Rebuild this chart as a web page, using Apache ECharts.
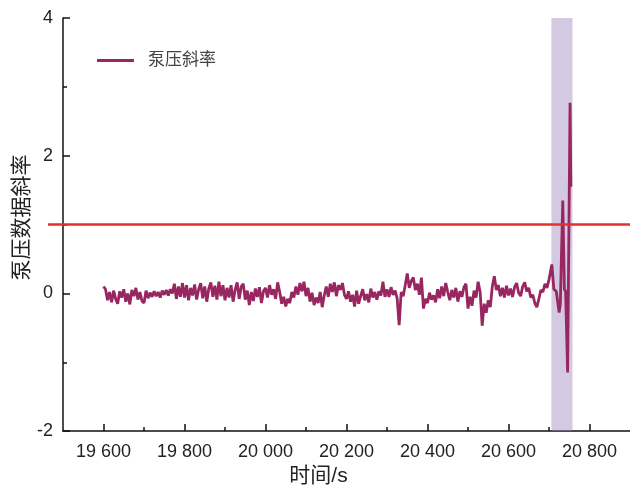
<!DOCTYPE html>
<html>
<head>
<meta charset="utf-8">
<script src="https://cdn.jsdelivr.net/npm/echarts@6/dist/echarts.min.js"></script>
<style>html,body{margin:0;padding:0;background:#fff}#c{width:630px;height:492px}</style>
</head>
<body>
<div id="c"></div>
<script>
// ---- data ----
const seriesName = '泵压斜率';
const xName = '时间/s';
const yName = '泵压数据斜率';
const sampleStart = 19600;   // s
const sampleStep = 5;        // s
// regularly sampled slope values, 19600 .. 20695 s
const slopeValues = [
  0.10, 0.06, -0.10, 0.02, -0.13, 0.04, -0.08, -0.15, 0.03, -0.06, 0.06, -0.12, 0.00, -0.16, 0.05, -0.04, 0.08, -0.09, 0.02, -0.11,
  -0.14, 0.04, -0.07, 0.01, -0.05, 0.03, -0.04, 0.02, -0.06, 0.04, -0.02, 0.05, -0.03, 0.06, 0.00, 0.14, -0.08, 0.10, -0.05, 0.15,
  -0.06, 0.12, -0.10, 0.08, -0.03, 0.13, -0.09, 0.06, 0.15, -0.07, 0.10, -0.12, 0.07, 0.16, -0.05, 0.11, -0.09, 0.17, -0.04, 0.12,
  -0.10, 0.08, -0.06, 0.12, -0.12, 0.05, 0.16, -0.08, 0.10, 0.14, -0.09, 0.04, -0.17, 0.02, -0.11, 0.07, -0.05, 0.09, -0.14, 0.03,
  0.08, -0.06, 0.12, -0.02, 0.06, -0.08, 0.16, 0.02, -0.15, -0.05, -0.19, -0.08, -0.14, 0.02, -0.06, 0.10, -0.02, 0.15, 0.03, 0.17,
  -0.04, 0.08, -0.12, 0.01, -0.17, -0.06, -0.14, 0.02, -0.20, -0.03, 0.10, -0.05, 0.14, 0.02, 0.16, -0.04, 0.12, 0.05, 0.15, -0.02,
  -0.08, 0.03, -0.12, -0.02, -0.19, 0.04, -0.15, -0.04, 0.06, -0.10, -0.01, -0.13, 0.07, -0.06, 0.02, -0.09, 0.03, -0.03, 0.17, -0.05,
  0.06, -0.05, 0.09, -0.02, 0.04, -0.07, -0.46, 0.02, -0.04, 0.12, 0.29, 0.08, 0.18, 0.23, 0.05, 0.14, -0.02, 0.23, -0.22, -0.08,
  -0.14, 0.01, -0.09, -0.03, -0.13, 0.06, -0.07, 0.10, -0.04, 0.15, 0.02, -0.10, 0.05, -0.06, 0.08, -0.12, 0.03, -0.05, 0.09, 0.14,
  -0.22, -0.05, -0.18, 0.04, -0.06, 0.17, 0.02, -0.47, -0.15, -0.28, -0.10, -0.20, 0.10, 0.25, 0.05, 0.12, -0.04, 0.08, -0.06, 0.11,
  -0.03, 0.07, -0.05, 0.09, 0.15, 0.01, -0.04, 0.10, 0.16, 0.03, 0.08, -0.06, -0.02, -0.14, -0.20, -0.08, 0.05, 0.02, 0.14, 0.08
];
// final irregular part around the anomaly
const spikeTimes  = [20700, 20707, 20712, 20718, 20721, 20725, 20728, 20734, 20738, 20741, 20746, 20752, 20754];
const spikeValues = [0.20, 0.42, 0.06, 0.03, 0.02, -0.28, -0.15, 1.35, 0.06, 0.03, -1.15, 2.77, 1.55];
// threshold line
const thresholdValue = 1;
const thresholdStart = 19463;
const thresholdEnd = 20900;
// highlighted interval
const bandStart = 20706;
const bandEnd = 20758;
// axes
const xMin = 19500, xMax = 20900;
const xMajorTicks = [19600, 19800, 20000, 20200, 20400, 20600, 20800];
const xMinorTicks = [19700, 19900, 20100, 20300, 20500, 20700];
const yMin = -2, yMax = 4, yInterval = 2;

// ---- build ----
const lineData = slopeValues.map((v, i) => [sampleStart + i * sampleStep, v])
  .concat(spikeTimes.map((t, i) => [t, spikeValues[i]]));

const FONT = '"Liberation Sans", Arial, "Noto Sans CJK SC", sans-serif';
const fmt = v => String(v).replace(/\B(?=(\d{3})+(?!\d))/g, ' ');

const chart = echarts.init(document.getElementById('c'), null, {renderer: 'canvas'});
chart.setOption({
  animation: false,
  backgroundColor: '#fff',
  textStyle: {fontFamily: FONT},
  grid: {left: 63, right: 0, top: 18, bottom: 60, containLabel: false},
  legend: {
    data: [seriesName],
    left: 92, top: 47,
    icon: 'rect', itemWidth: 37, itemHeight: 3,
    textStyle: {fontSize: 17, color: '#444', fontFamily: FONT, padding: [0, 0, 0, 9]}
  },
  xAxis: [{
    type: 'value', min: xMin, max: xMax,
    name: xName, nameLocation: 'middle', nameGap: 33,
    nameTextStyle: {fontSize: 21, color: '#222', fontFamily: FONT, padding: [0, 56, 0, 0]},
    axisLine: {show: true, onZero: false, lineStyle: {color: '#111', width: 1.5}},
    axisTick: {show: true, inside: true, length: 7, customValues: xMajorTicks, lineStyle: {color: '#111', width: 1.5}},
    axisLabel: {customValues: xMajorTicks, formatter: fmt, fontSize: 18, color: '#222', margin: 12, fontFamily: FONT},
    splitLine: {show: false}
  }, {
    type: 'value', min: xMin, max: xMax, position: 'bottom',
    axisLine: {show: false, onZero: false},
    axisTick: {show: true, inside: true, length: 4, customValues: xMinorTicks, lineStyle: {color: '#111', width: 1.5}},
    axisLabel: {show: false},
    splitLine: {show: false}
  }],
  yAxis: {
    type: 'value', min: yMin, max: yMax, interval: yInterval,
    name: yName, nameLocation: 'middle', nameGap: 30, nameRotate: 90, nameMoveOverlap: false,
    nameTextStyle: {fontSize: 21, color: '#222', fontFamily: FONT, padding: [0, 0, 0, 14]},
    axisLine: {show: true, onZero: false, lineStyle: {color: '#111', width: 1.5}},
    axisTick: {show: true, inside: true, length: 7, lineStyle: {color: '#111', width: 1.5}},
    minorTick: {show: true, splitNumber: 2, length: 4, lineStyle: {color: '#111', width: 1.5}},
    axisLabel: {fontSize: 18, color: '#222', margin: 10, fontFamily: FONT},
    splitLine: {show: false}
  },
  series: [{
    name: seriesName, type: 'line', data: lineData, xAxisIndex: 0,
    symbol: 'none', z: 2,
    lineStyle: {color: '#982660', width: 2.8},
    itemStyle: {color: '#982660'}
  }, {
    name: 'band', type: 'line', data: [], xAxisIndex: 0, z: 3, silent: true,
    markArea: {
      silent: true,
      itemStyle: {color: 'rgba(150,127,187,0.42)'},
      data: [[{xAxis: bandStart}, {xAxis: bandEnd}]]
    }
  }]
});

// threshold line, positioned through the chart's own scales (extends left of the axis)
const p0 = chart.convertToPixel({xAxisIndex: 0, yAxisIndex: 0}, [thresholdStart, thresholdValue]);
const p1 = chart.convertToPixel({xAxisIndex: 0, yAxisIndex: 0}, [thresholdEnd, thresholdValue]);
chart.setOption({
  graphic: [{
    type: 'line', z: 10, silent: true,
    shape: {x1: p0[0], y1: p0[1], x2: p1[0], y2: p1[1]},
    style: {stroke: '#e3312b', lineWidth: 2.5}
  }]
});
</script>
</body>
</html>
